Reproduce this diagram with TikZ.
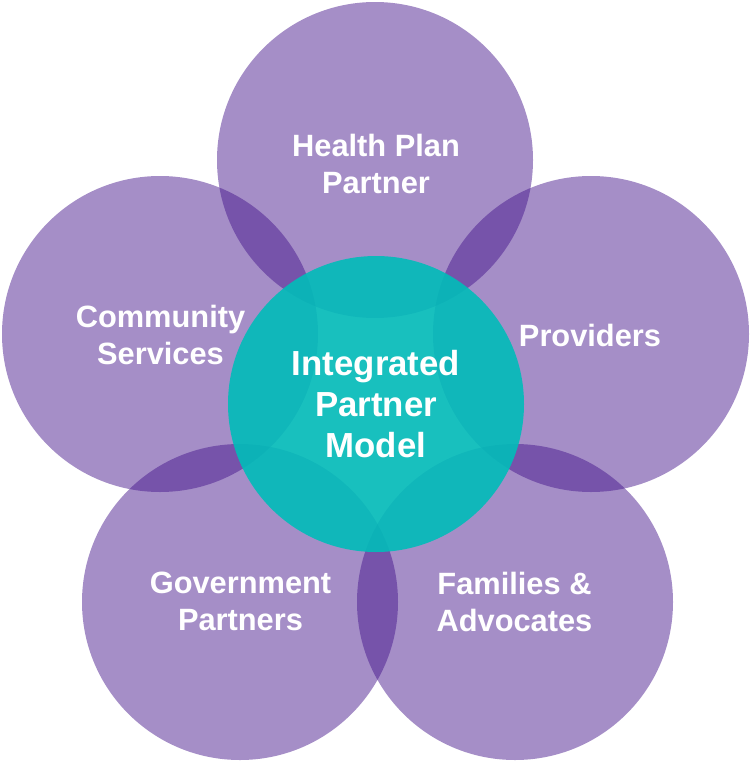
\documentclass[tikz,border=0pt]{standalone}
\usepackage{fontspec}
\setmainfont{Liberation Sans}
\definecolor{purp}{RGB}{67,19,138}
\definecolor{hubteal}{RGB}{4,187,185}
\begin{document}
\begin{tikzpicture}[x=1pt,y=-1pt,
  petal/.style={circle, minimum size=316pt, inner sep=0pt, fill=purp, fill opacity=0.48},
  hub/.style={circle, minimum size=296pt, inner sep=0pt, fill=hubteal, fill opacity=0.92},
  lbl/.style={text=white, align=center, font=\bfseries\fontsize{30.8}{37}\selectfont, inner sep=0pt},
  hublbl/.style={lbl, font=\bfseries\fontsize{34.8}{41}\selectfont}]
\useasboundingbox (0,0) rectangle (751,763);
% petals
\node[petal] (top) at (375,160) {};
\node[petal] (left) at (160,334) {};
\node[petal] (right) at (591,334) {};
\node[petal] (bl) at (240,602) {};
\node[petal] (br) at (515,602) {};
% hub
\node[hub] (center) at (376,404) {};
% labels
\node[lbl] (ttop) at (376,163.5) {Health Plan\\Partner};
\node[lbl] (tleft) at (160.5,334.5) {Community\\Services};
\node[lbl] (tright) at (590,335.7) {Providers};
\node[lbl] (tbl) at (240.5,601.5) {Government\\Partners};
\node[lbl] (tbr) at (514.5,601.5) {Families \&\\Advocates};
\node[hublbl] (tcenter) at (376,403.6) {Integrated\\Partner\\Model};
\end{tikzpicture}
\end{document}
